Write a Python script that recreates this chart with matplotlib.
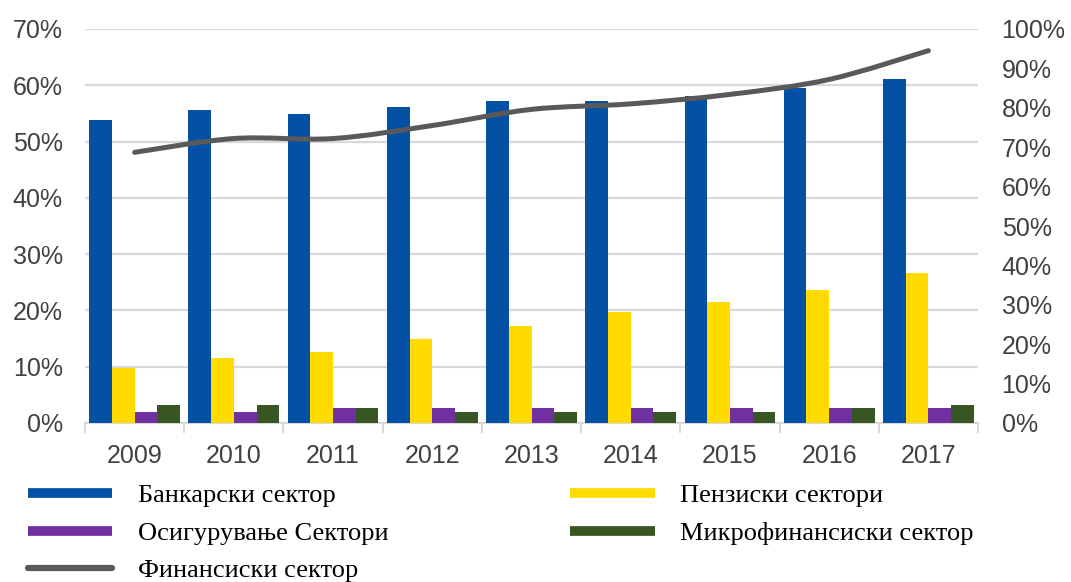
import numpy as np
import matplotlib
matplotlib.use("Agg")
import matplotlib.pyplot as plt
from matplotlib.lines import Line2D
from matplotlib.path import Path
from matplotlib.patches import PathPatch
from matplotlib.ticker import FuncFormatter

years = ["2009", "2010", "2011", "2012", "2013", "2014", "2015", "2016", "2017"]
bank = [53.8, 55.6, 54.9, 56.1, 57.2, 57.2, 58.1, 59.6, 61.2]
pension = [9.7, 11.5, 12.6, 14.9, 17.2, 19.7, 21.5, 23.6, 26.6]
insurance = [2.0, 2.0, 2.6, 2.7, 2.6, 2.6, 2.6, 2.6, 2.6]
micro = [3.2, 3.2, 2.6, 2.0, 2.0, 2.0, 2.0, 2.6, 3.2]
financial = [68.7, 72.2, 72.2, 75.5, 79.6, 81.0, 83.4, 87.2, 94.5]

labels = ["Банкарски сектор", "Осигурување Сектори", "Финансиски сектор",
          "Пензиски сектори", "Микрофинансиски сектор"]

c_bank = "#0450a5"
c_pension = "#ffdb00"
c_ins = "#7030a0"
c_micro = "#375623"
c_line = "#595959"
c_grid = "#d9d9d9"
c_text = "#404040"


def smooth_path(xs, ys):
    # catmull-rom -> cubic bezier, like excel's smoothed line
    pts = np.column_stack([xs, ys]).astype(float)
    ext = np.vstack([pts[0], pts, pts[-1]])
    verts = [pts[0]]
    codes = [Path.MOVETO]
    for i in range(len(pts) - 1):
        p0, p1, p2, p3 = ext[i], ext[i + 1], ext[i + 2], ext[i + 3]
        verts += [p1 + (p2 - p0) / 6, p2 - (p3 - p1) / 6, p2]
        codes += [Path.CURVE4] * 3
    return Path(verts, codes)


fig = plt.figure(figsize=(10.71, 5.82), dpi=100)
ax = fig.add_axes([85 / 1071, 1 - 423 / 582, (978 - 85) / 1071, (423 - 29) / 582])

x = np.arange(len(years))
w = 0.229
ax.bar(x - 1.5 * w, bank, w, color=c_bank, zorder=3)
ax.bar(x - 0.5 * w, pension, w, color=c_pension, zorder=3)
ax.bar(x + 0.5 * w, insurance, w, color=c_ins, zorder=3)
ax.bar(x + 1.5 * w, micro, w, color=c_micro, zorder=3)

ax.set_xlim(-0.5, len(years) - 0.5)
ax.set_ylim(0, 70)
ax.set_yticks(np.arange(0, 71, 10))
ax.yaxis.set_major_formatter(FuncFormatter(lambda v, p: f"{v:.0f}%"))
ax.grid(axis="y", color=c_grid, lw=1.6, zorder=0)
ax.set_axisbelow(True)
ax.set_xticks(x)
ax.set_xticklabels(years)
ax.set_xticks(np.arange(-0.5, len(years), 1), minor=True)
ax.tick_params(axis="x", which="major", length=0, pad=15)
ax.tick_params(axis="x", which="minor", length=7, width=1.4, color=c_grid)
ax.tick_params(axis="y", length=0, pad=16)
for s in ["top", "right", "left"]:
    ax.spines[s].set_visible(False)
ax.spines["bottom"].set_color(c_grid)
ax.spines["bottom"].set_linewidth(1.6)

ax2 = ax.twinx()
ax2.set_ylim(0, 1)
ax2.set_yticks(np.arange(0, 1.01, 0.1))
ax2.yaxis.set_major_formatter(FuncFormatter(lambda v, p: f"{v * 100:.0f}%"))
ax2.tick_params(axis="y", length=0, pad=17)
for s in ax2.spines.values():
    s.set_visible(False)
ax2.add_patch(PathPatch(smooth_path(x, np.array(financial) / 100), fill=False,
                        edgecolor=c_line, lw=3.6, capstyle="round", zorder=4))

for lab in ax.get_yticklabels() + ax.get_xticklabels() + ax2.get_yticklabels():
    lab.set_family("Liberation Sans")
    lab.set_fontsize(18)
    lab.set_color(c_text)

handles = [
    Line2D([], [], color=c_bank, lw=7, solid_capstyle="butt"),
    Line2D([], [], color=c_ins, lw=7, solid_capstyle="butt"),
    Line2D([], [], color=c_line, lw=4.5, solid_capstyle="round"),
    Line2D([], [], color=c_pension, lw=7, solid_capstyle="butt"),
    Line2D([], [], color=c_micro, lw=7, solid_capstyle="butt"),
]
fig.legend(handles, labels, loc="upper left", bbox_to_anchor=(28 / 1071, 1 - 484 / 582),
           ncol=2, frameon=False, borderpad=0, borderaxespad=0,
           prop={"family": "Liberation Serif", "size": 19},
           handlelength=3.2, handletextpad=0.95, columnspacing=6.9, labelspacing=0.53)

fig.savefig("out.png", dpi=100)
